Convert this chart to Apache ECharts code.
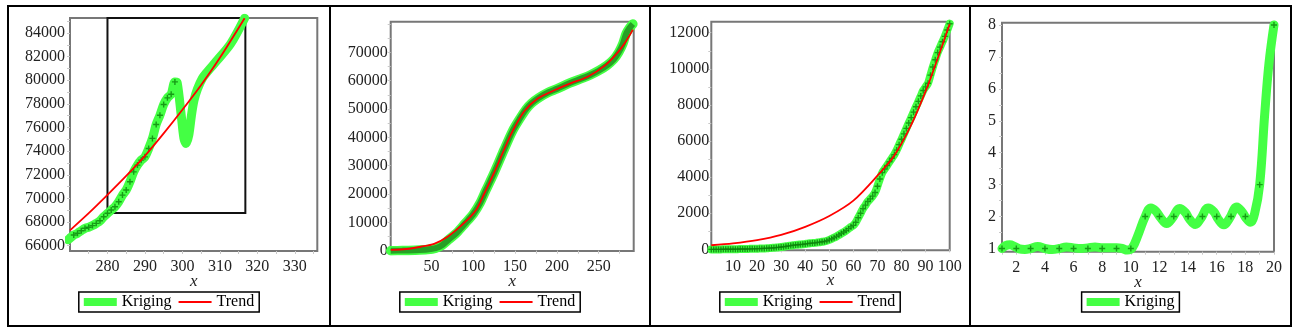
<!DOCTYPE html>
<html><head><meta charset="utf-8">
<script src="https://cdn.jsdelivr.net/npm/echarts@6/dist/echarts.min.js"></script>
<style>
html,body{margin:0;padding:0;background:#fff;}
body{width:1297px;height:331px;position:relative;overflow:hidden;}
.chart{position:absolute;top:0;height:331px;}
.frame{position:absolute;left:7px;top:5px;width:1281px;height:318px;border:2px solid #000;}
.sep{position:absolute;top:6px;height:320px;width:2px;background:#000;}
</style></head>
<body>
<div class="frame"></div>
<div class="sep" style="left:329px"></div>
<div class="sep" style="left:649px"></div>
<div class="sep" style="left:969px"></div>
<div id="c1" class="chart" style="left:9px;width:320px"></div>
<div id="c2" class="chart" style="left:332px;width:316px"></div>
<div id="c3" class="chart" style="left:652px;width:316px"></div>
<div id="c4" class="chart" style="left:972px;width:317px"></div>
<script>
// ---------------- data ----------------
// Panel 1
const p1PointX = [271,272,273,274,275,276,277,278,279,280,281,282,283,284,285,286,287,288,289,290,291,292,293,294,295,296,297,298];
const p1PointY = [66900,67050,67270,67470,67560,67700,67890,68110,68450,68740,69020,69300,69720,70280,70710,71410,72250,72820,73240,73520,74230,75080,76260,77040,77950,78510,78820,79860];
const p1KrigX = [269.5,271,272,273,274,275,276,277,278,279,280,281,282,283,284,285,286,287,288,289,290,291,292,293,294,295,296,297,298,298.6,299.7,300.4,301.0,301.7,302.4,303.1,304,305.3,306.6,309.3,312.9,316.6];
const p1KrigY = [66500,66900,67050,67270,67470,67560,67700,67890,68110,68450,68740,69020,69300,69720,70280,70710,71410,72250,72820,73240,73520,74230,75080,76260,77040,77950,78510,78820,79860,79800,77000,75100,74650,75350,77000,78300,79250,80150,80700,81700,83100,85250];
const p1TrendX = [270,275,280,285,290,295,300,305,310,316.6];
const p1TrendY = [67300,68750,70300,71900,73600,75500,77500,79600,81900,85250];
const p1RectX = [280,316.8];
const p1RectY = [68760,85270];
const p1XLabels = [280,290,300,310,320,330];
const p1YLabels = [66000,68000,70000,72000,74000,76000,78000,80000,82000,84000];

// Panel 2
const p2KrigX = [1,15,30,45,55,62,70,80,90,100,108,115,125,137,147,155,163,170,178,190,200,215,230,240,250,260,268,274,279,283,287,291];
const p2KrigY = [0,60,150,400,900,1800,3800,6300,9600,13000,16800,21300,27600,35800,42300,46300,49900,52100,53900,55900,57100,59100,60800,62000,63500,65400,67500,70000,73000,76600,78600,80000];
const p2TrendX = [1,20,37,53,69,89,103,113,125,137,147,161,177,197,217,237,257,273,283,291];
const p2TrendY = [300,600,1400,2400,4900,9800,14300,20100,27600,35800,42200,49200,53700,56600,59100,61400,65200,70000,74000,78000];
const p2XLabels = [50,100,150,200,250];
const p2YLabels = [0,10000,20000,30000,40000,50000,60000,70000];

// Panel 3
const p3PointX = [1,2,3,4,5,6,7,8,9,10,11,12,13,14,15,16,17,18,19,20,21,22,23,24,25,26,27,28,29,30,31,32,33,34,35,36,37,38,39,40,41,42,43,44,45,46,47,48,49,50,51,52,53,54,55,56,57,58,59,60,61,62,63,64,65,66,67,68,69,70,71,72,73,74,75,76,77,78,79,80,81,82,83,84,85,86,87,88,89,90,91,92,93,94,95,96,97,98,99,100];
const p3PointY = [0,0,0,0,0,5,5,10,10,10,15,15,20,20,25,25,30,30,35,40,45,50,55,60,70,80,90,100,115,130,150,170,190,210,230,250,260,270,280,300,320,340,350,360,380,400,420,440,480,530,590,650,720,800,880,960,1050,1150,1250,1330,1500,1750,2000,2250,2450,2650,2800,2950,3150,3500,3900,4250,4450,4650,4850,5050,5250,5500,5800,6100,6400,6700,7000,7300,7600,7900,8200,8500,8800,9000,9200,9650,10100,10500,10900,11200,11500,11800,12150,12500];
const p3TrendX = [1,10,20,30,40,50,60,70,77,84,91,96.5,100];
const p3TrendY = [230,330,510,800,1250,1850,2700,4080,5200,6890,9100,11140,12480];
const p3XLabels = [10,20,30,40,50,60,70,80,90,100];
const p3YLabels = [0,2000,4000,6000,8000,10000,12000];

// Panel 4
const p4PointX = [1,2,3,4,5,6,7,8,9,10,11,12,13,14,15,16,17,18,19,20];
const p4PointY = [1,1,1,1,1,1,1,1,1,1,2,2,2,2,2,2,2,2,3,8];
const p4KrigX = [1,1.25,1.55,1.85,2.2,2.6,3.0,3.5,4.0,4.5,5.0,5.5,6.0,6.5,7.0,7.5,8.0,8.5,9.0,9.4,9.75,10.1,10.5,11.0,11.4,11.75,12.1,12.5,12.9,13.4,13.8,14.1,14.5,14.9,15.4,15.8,16.1,16.5,16.9,17.4,17.8,18.05,18.35,18.65,19.0,19.35,19.65,20];
const p4KrigY = [1.0,1.09,1.12,1.07,0.99,0.97,1.0,1.06,1.0,0.97,1.0,1.05,1.02,1.0,1.02,1.05,1.02,1.02,1.02,1.0,0.95,1.02,1.42,2.0,2.27,2.17,1.95,1.78,1.95,2.25,2.13,1.92,1.75,1.95,2.27,2.15,1.92,1.74,1.95,2.3,2.13,1.95,1.82,2.1,3.0,5.2,6.8,8.0];
const p4XLabels = [2,4,6,8,10,12,14,16,18,20];
const p4YLabels = [1,2,3,4,5,6,7,8];

// ---------------- helpers ----------------
const FONT = 'Liberation Serif';
const GREEN = '#44ff44', DARK = '#0b820b', RED = '#ff0000', FRAME = '#777777';
const LABEL_FS = 16;
const plusIcon = 'path://M2.3,0H3.7V2.3H6V3.7H3.7V6H2.3V3.7H0V2.3H2.3Z';
const trendIcon = 'path://M0,0L0,0M0,8L0,8M0,3H33V5H0Z';
function zip(xs, ys) { return xs.map((x, i) => [x, ys[i]]); }
function range(a, b, s) { const r = []; for (let v = a; v <= b + 1e-9; v += s) r.push(+v.toFixed(6)); return r; }

function xAxis(min, max, labels, ticks) {
  return {
    type: 'value', min, max, name: 'x', nameLocation: 'middle', nameGap: 22, nameMoveOverlap: false,
    nameTextStyle: { fontFamily: FONT, fontStyle: 'italic', fontSize: 17, color: '#222' },
    axisLine: { show: false }, splitLine: { show: false },
    axisTick: { show: true, length: 3, customValues: ticks, lineStyle: { color: '#c8c8c8', width: 1 } },
    axisLabel: { customValues: labels, margin: 8, fontFamily: FONT, fontSize: LABEL_FS, color: '#222', formatter: v => String(v) }
  };
}
function yAxis(min, max, labels, ticks, margin) {
  return {
    type: 'value', min, max,
    axisLine: { show: false }, splitLine: { show: false },
    axisTick: { show: true, length: 3, customValues: ticks, lineStyle: { color: '#c8c8c8', width: 1 } },
    axisLabel: { customValues: labels, margin, fontFamily: FONT, fontSize: LABEL_FS, color: '#222', formatter: v => String(v) }
  };
}
function legend(withTrend) {
  const data = [{ name: 'Kriging', icon: 'rect', itemStyle: { color: GREEN, borderWidth: 0 } }];
  if (withTrend) data.push({ name: 'Trend', icon: trendIcon, itemStyle: { color: RED, borderWidth: 0 } });
  return {
    top: 292, left: 'center', data, selectedMode: false,
    itemWidth: 33, itemHeight: 8, itemGap: 7, padding: [2, 5, 2, 5],
    borderColor: '#000', borderWidth: 1.5, backgroundColor: '#fff',
    itemStyle: { borderWidth: 0 },
    textStyle: { fontFamily: FONT, fontSize: 16, color: '#000' }
  };
}
function grid(left, top, width, height) {
  return { left, top, width, height, show: true, borderColor: FRAME, borderWidth: 2, backgroundColor: 'transparent' };
}
function krig(data, width, smooth) {
  return { type: 'line', name: 'Kriging', data, smooth, showSymbol: false, symbol: 'none',
    lineStyle: { color: GREEN, width, cap: 'round', join: 'round' }, itemStyle: { color: GREEN }, z: 2, silent: true };
}
function pts(data, size) {
  return { type: 'scatter', name: 'points', data, symbol: plusIcon, symbolSize: size, itemStyle: { color: DARK }, z: 3, silent: true };
}
function trend(data) {
  return { type: 'line', name: 'Trend', data, smooth: 0.3, showSymbol: false, symbol: 'none',
    lineStyle: { color: RED, width: 1.8 }, itemStyle: { color: RED }, z: 4, silent: true };
}

// ---------------- panel 1 ----------------
echarts.init(document.getElementById('c1'), null, { renderer: 'canvas' }).setOption({
  animation: false,
  grid: grid(61, 18, 247.3, 233),
  legend: legend(true),
  xAxis: xAxis(270, 336, p1XLabels, range(275, 335, 5)),
  yAxis: yAxis(65550, 85270, p1YLabels, range(66000, 85000, 1000), 5),
  series: [
    { type: 'line', name: 'box', data: zip(p1RectX, p1RectY), showSymbol: false, symbol: 'none', lineStyle: { opacity: 0 }, z: 1, silent: true,
      markArea: { silent: true, z: 1, itemStyle: { color: 'rgba(0,0,0,0)', borderColor: '#111', borderWidth: 2 },
        data: [[{ xAxis: p1RectX[0], yAxis: p1RectY[0] }, { xAxis: p1RectX[1], yAxis: p1RectY[1] }]] } },
    krig(zip(p1KrigX, p1KrigY), 9, 0.3),
    pts(zip(p1PointX, p1PointY), 6),
    trend(zip(p1TrendX, p1TrendY))
  ]
});

// ---------------- panel 2 ----------------
echarts.init(document.getElementById('c2'), null, { renderer: 'canvas' }).setOption({
  animation: false,
  grid: grid(58.7, 21.7, 243, 229.3),
  legend: legend(true),
  xAxis: xAxis(1, 292, p2XLabels, range(25, 275, 25)),
  yAxis: yAxis(-100, 80800, p2YLabels, range(0, 80000, 5000), 3),
  series: [
    krig(zip(p2KrigX, p2KrigY), 9.5, 0.3),
    { type: 'line', name: 'points', data: zip(p2KrigX, p2KrigY), smooth: 0.3, showSymbol: false, symbol: 'none',
      lineStyle: { color: '#26a026', width: 6 }, z: 3, silent: true },
    trend(zip(p2TrendX, p2TrendY))
  ]
});

// ---------------- panel 3 ----------------
echarts.init(document.getElementById('c3'), null, { renderer: 'canvas' }).setOption({
  animation: false,
  grid: grid(59.3, 21.7, 238.4, 228.6),
  legend: legend(true),
  xAxis: xAxis(1, 100, p3XLabels, range(10, 100, 10)),
  yAxis: yAxis(-50, 12610, p3YLabels, range(0, 12000, 1000), 2),
  series: [
    krig(zip(p3PointX, p3PointY), 8, 0.3),
    pts(zip(p3PointX, p3PointY), 6),
    trend(zip(p3TrendX, p3TrendY))
  ]
});

// ---------------- panel 4 ----------------
echarts.init(document.getElementById('c4'), null, { renderer: 'canvas' }).setOption({
  animation: false,
  grid: grid(30, 22.7, 272, 229),
  legend: legend(false),
  xAxis: xAxis(1, 20, p4XLabels, range(1, 20, 1)),
  yAxis: yAxis(0.9, 8.07, p4YLabels, range(1, 8, 0.5), 6),
  series: [
    krig(zip(p4KrigX, p4KrigY), 9, 0.4),
    pts(zip(p4PointX, p4PointY), 6)
  ]
});
</script>
</body></html>
